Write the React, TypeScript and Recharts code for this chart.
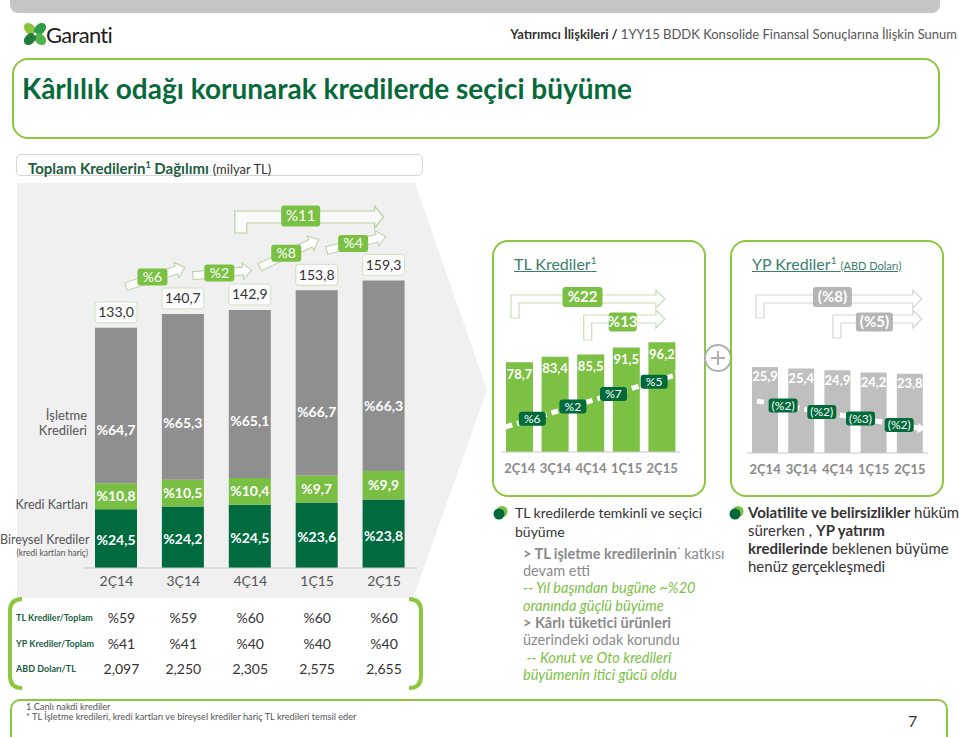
import React from "react";
import { BarChart, Bar, XAxis, YAxis, LabelList } from "recharts";

// quarters and total loan breakdown (milyar TL)
const quarters = ["2Ç14", "3Ç14", "4Ç14", "1Ç15", "2Ç15"];
const totalLoans = [133.0, 140.7, 142.9, 153.8, 159.3];
const businessShare = [64.7, 65.3, 65.1, 66.7, 66.3];
const cardShare = [10.8, 10.5, 10.4, 9.7, 9.9];
const consumerShare = [24.5, 24.2, 24.5, 23.6, 23.8];
const totalQoq = ["%6", "%2", "%8", "%4"];
const totalYoy = "%11";

// table under the main chart
const tlOfTotal = ["%59", "%59", "%60", "%60", "%60"];
const fcOfTotal = ["%41", "%41", "%40", "%40", "%40"];
const usdTry = ["2,097", "2,250", "2,305", "2,575", "2,655"];

// TL loans (milyar TL)
const tlLoans = [78.7, 83.4, 85.5, 91.5, 96.2];
const tlQoq = ["%6", "%2", "%7", "%5"];
const tlYoy = "%22";
const tlYtd = "%13";

// FC loans (milyar ABD Doları)
const fcLoans = [25.9, 25.4, 24.9, 24.2, 23.8];
const fcQoq = ["(%2)", "(%2)", "(%3)", "(%2)"];
const fcYoy = "(%8)";
const fcYtd = "(%5)";

const GREEN = "#7ac143";
const DARK = "#006a3b";
const BORDER = "#8dc63f";
const FONT = "Lato, 'Open Sans', sans-serif";

const fmt = (n: number) => n.toFixed(1).replace(".", ",");

const mainData = quarters.map((q, i) => ({
  q,
  consumer: (totalLoans[i] * consumerShare[i]) / 100,
  card: (totalLoans[i] * cardShare[i]) / 100,
  business: (totalLoans[i] * businessShare[i]) / 100,
}));
const tlData = quarters.map((q, i) => ({ q, v: tlLoans[i] }));
const fcData = quarters.map((q, i) => ({ q, v: fcLoans[i] }));

const MAIN = { x: 0, y: 180, w: 440, h: 420 };
const MAIN_M = { top: 63, right: 22.5, bottom: 2, left: 83 };
const MAIN_BAND = (MAIN.w - MAIN_M.left - MAIN_M.right) / 5;

const TL = { x: 492, y: 240, w: 214, h: 257 };
const TL_M = { top: 75, right: 26, bottom: 15, left: 10 };
const TL_BAND = (TL.w - TL_M.left - TL_M.right) / 5;

const FC = { x: 730, y: 240, w: 214, h: 257 };
const FC_M = { top: 80, right: 16, bottom: 14, left: 17 };
const FC_BAND = (FC.w - FC_M.left - FC_M.right) / 5;

const vbOf = (p: any) => {
  const v = p.viewBox || {};
  return {
    x: v.x ?? p.x,
    y: v.y ?? p.y,
    width: v.width ?? p.width,
    height: v.height ?? p.height,
  };
};

function blockArrow(key: string, x1: number, y1: number, x2: number, y2: number, stroke: string, fill: string) {
  const L = Math.hypot(x2 - x1, y2 - y1);
  const a = (Math.atan2(y2 - y1, x2 - x1) * 180) / Math.PI;
  const pts = [[0, -4], [L - 9, -4], [L - 9, -8], [L, 0], [L - 9, 8], [L - 9, 4], [0, 4]]
    .map((p) => p.join(","))
    .join(" ");
  return (
    <polygon key={key} points={pts} transform={`translate(${x1},${y1}) rotate(${a})`}
      fill={fill} stroke={stroke} strokeWidth={1} />
  );
}

function bentArrow(key: string, xl: number, yTop: number, yBottom: number, xTip: number, th: number, stroke: string, fill: string) {
  const h = 9, w = 5;
  const d = `M${xl},${yBottom} L${xl},${yTop} L${xTip - h},${yTop} L${xTip - h},${yTop - w} L${xTip},${yTop + th / 2} L${xTip - h},${yTop + th + w} L${xTip - h},${yTop + th} L${xl + th},${yTop + th} L${xl + th},${yBottom} Z`;
  return <path key={key} d={d} fill={fill} stroke={stroke} strokeWidth={1.2} />;
}

function tag(key: string, cx: number, cy: number, w: number, h: number, text: string, fill: string,
  color: string, fs: number, weight = 700, stroke = "none") {
  return (
    <g key={key}>
      <rect x={cx - w / 2} y={cy - h / 2} width={w} height={h} rx={3} fill={fill} stroke={stroke} />
      <text x={cx} y={cy} dy="0.35em" textAnchor="middle" fill={color} fontSize={fs} fontWeight={weight}
        fontFamily={FONT}>{text}</text>
    </g>
  );
}

function dashedArrow(key: string, xs: number, ys: number, xe: number, ye: number) {
  const a = (Math.atan2(ye - ys, xe - xs) * 180) / Math.PI;
  return (
    <g key={key}>
      <line x1={xs} y1={ys} x2={xe} y2={ye} stroke="#fff" strokeWidth={5} strokeDasharray="7 5" />
      <polygon points="0,-5 8,0 0,5" fill="#fff" transform={`translate(${xe},${ye}) rotate(${a})`} />
    </g>
  );
}

const consumerLabel = (p: any) => {
  const { x, y, width, height } = vbOf(p);
  return (
    <text x={x + width / 2} y={y + height / 2 + 2} dy="0.35em" textAnchor="middle" fill="#fff"
      fontSize={14} fontWeight={700} fontFamily={FONT}>%{fmt(consumerShare[p.index])}</text>
  );
};

const cardLabel = (p: any) => {
  const { x, y, width, height } = vbOf(p);
  return (
    <text x={x + width / 2} y={y + height / 2} dy="0.35em" textAnchor="middle" fill="#fff"
      fontSize={14} fontWeight={700} fontFamily={FONT}>%{fmt(cardShare[p.index])}</text>
  );
};

const businessLabel = (p: any) => {
  const { x, y, width, height } = vbOf(p);
  const i = p.index;
  const cx = x + width / 2;
  const ppu = height / mainData[i].business;
  const out: any[] = [];
  out.push(
    <text key="pct" x={cx} y={y + height * 0.66} dy="0.35em" textAnchor="middle" fill="#fff"
      fontSize={14} fontWeight={700} fontFamily={FONT}>%{fmt(businessShare[i])}</text>
  );
  out.push(tag("tot", cx, y - 15.5, width, 21, fmt(totalLoans[i]), "#fbfbfb", "#333", 14, 400, "#cfe0bf"));
  if (i > 0) {
    const prevTop = y + (totalLoans[i] - totalLoans[i - 1]) * ppu;
    const curTag = y - 26;
    const prevTag = prevTop - 26;
    const by = curTag - 11;
    const bx = cx - MAIN_BAND / 2 + 3;
    const d = Math.max(2, (prevTag - curTag) * 0.7);
    out.push(blockArrow("ar", cx - MAIN_BAND + 10, by + d, cx + 2, by - d, "#b7cfa3", "#fdfdfd"));
    out.push(tag("g", bx, by, 30, 17, totalQoq[i - 1], GREEN, "#fff", 14, 400));
  }
  if (i === 4) {
    const c3 = cx - 2 * MAIN_BAND;
    out.push(bentArrow("yoy", c3 - 15, 31, 53, cx, 12, "#b7cfa3", "#fafafa"));
    out.push(tag("yoyt", cx - MAIN_BAND - 16, 36, 39, 21, totalYoy, GREEN, "#fff", 15, 400));
  }
  return <g>{out}</g>;
};

const tlLabel = (p: any) => {
  const { x, y, width, height } = vbOf(p);
  const i = p.index;
  const cx = x + width / 2;
  const base = y + height;
  const c1 = cx - i * TL_BAND;
  const c3 = cx + (2 - i) * TL_BAND;
  const c5 = cx + (4 - i) * TL_BAND;
  const xs = c1 - 14, ys = base - 25, xe = c5 + 14, ye = base - 77;
  const lineY = (xx: number) => ys + ((xx - xs) * (ye - ys)) / (xe - xs);
  const out: any[] = [];
  if (i === 0) {
    out.push(dashedArrow("dash", xs, ys, xe, ye));
    out.push(bentArrow("b1", c1 - 8.5, 55, 78, c5 + 3, 8, "#c9ddb5", "#fff"));
    out.push(tag("t1", c1 + 63, 57, 40, 20, tlYoy, GREEN, "#fff", 15));
    out.push(bentArrow("b2", c3 - 7, 75, 100, c5 + 3, 8, "#c9ddb5", "#fff"));
    out.push(tag("t2", c3 + 32, 82, 28, 19, tlYtd, GREEN, "#fff", 15));
  }
  out.push(
    <text key="v" x={cx} y={y + 12} dy="0.35em" textAnchor="middle" fill="#fff" fontSize={13}
      fontWeight={700} fontFamily={FONT}>{fmt(tlLoans[i])}</text>
  );
  if (i > 0) {
    const bx = cx - TL_BAND / 2 + (i - 2) * 5;
    out.push(tag("g", bx, lineY(bx), 27, 14, tlQoq[i - 1], DARK, "#fff", 12, 400));
  }
  return <g>{out}</g>;
};

const fcLabel = (p: any) => {
  const { x, y, width, height } = vbOf(p);
  const i = p.index;
  const cx = x + width / 2;
  const base = y + height;
  const c1 = cx - i * FC_BAND;
  const c3 = cx + (2 - i) * FC_BAND;
  const c5 = cx + (4 - i) * FC_BAND;
  const xs = c1 - 8, ys = base - 52, xe = c5 + 8, ye = base - 25;
  const lineY = (xx: number) => ys + ((xx - xs) * (ye - ys)) / (xe - xs);
  const out: any[] = [];
  if (i === 0) {
    out.push(dashedArrow("dash", xs, ys, xe, ye));
    out.push(bentArrow("b1", c1 - 9, 55, 78, c5 + 12, 8, "#d6d6d6", "#fff"));
    out.push(tag("t1", c3 - 5, 57, 39, 20, fcYoy, "#b5b5b5", "#fff", 15));
    out.push(bentArrow("b2", c3 - 4.5, 75, 98, c5 + 12, 8, "#d6d6d6", "#fff"));
    out.push(tag("t2", c3 + 37, 82, 37, 19, fcYtd, "#b5b5b5", "#fff", 15));
  }
  out.push(
    <text key="v" x={cx} y={y + 10} dy="0.35em" textAnchor="middle" fill="#fff" fontSize={13}
      fontWeight={700} fontFamily={FONT}>{fmt(fcLoans[i])}</text>
  );
  if (i > 0) {
    const bx = cx - FC_BAND / 2 + (i - 1) * 2.5;
    out.push(tag("g", bx, lineY(bx), 29, 14, fcQoq[i - 1], DARK, "#fff", 12, 400));
  }
  return <g>{out}</g>;
};

const abs = (x: number, y: number, extra: any = {}) => ({ position: "absolute" as const, left: x, top: y, ...extra });

function Bullet({ x, y }: { x: number; y: number }) {
  return (
    <svg style={abs(x, y)} width={16} height={16}>
      <circle cx={9} cy={6.5} r={5.5} fill={GREEN} />
      <circle cx={6} cy={9} r={5.5} fill={DARK} />
    </svg>
  );
}

export default function App() {
  const mainCenters = quarters.map((_, i) => MAIN.x + MAIN_M.left + MAIN_BAND * (i + 0.5));
  const tableRows = [
    { label: "TL Krediler/Toplam", values: tlOfTotal, y: 609 },
    { label: "YP Krediler/Toplam", values: fcOfTotal, y: 635 },
    { label: "ABD Doları/TL", values: usdTry, y: 660 },
  ];
  const sub = { color: "#8a8a8a", fontSize: 14.5 };
  const ital = { color: GREEN, fontStyle: "italic" as const, fontSize: 14.5 };
  return (
    <div style={{ position: "absolute", left: 0, top: 0, width: 959, height: 737, background: "#fff",
      overflow: "hidden", fontFamily: FONT }}>
      {/* header */}
      <div style={abs(10, -10, { width: 930, height: 23, background: "#c6c6c6", borderRadius: 8 })} />
      <svg style={abs(22, 19)} width={28} height={30}>
        <g transform="translate(13,15)">
          <ellipse cx={-5} cy={-5} rx={5} ry={7} transform="rotate(-45 -5 -5)" fill="#8cc63f" />
          <ellipse cx={5} cy={-5} rx={5} ry={7} transform="rotate(45 5 -5)" fill="#2e9d48" />
          <ellipse cx={5} cy={5} rx={5} ry={7} transform="rotate(-45 5 5)" fill="#4db34a" />
          <ellipse cx={-5} cy={5} rx={5} ry={7} transform="rotate(45 -5 5)" fill="#1f7c3c" />
          <circle cx={0} cy={0} r={1.5} fill="#fff" />
        </g>
      </svg>
      <div style={abs(46, 20, { fontSize: 22, color: "#1d1d1b", letterSpacing: -0.7, lineHeight: "30px",
        whiteSpace: "nowrap" })}>Garanti</div>
      <div style={abs(0, 25, { width: 957, textAlign: "right", fontSize: 13, color: "#555", lineHeight: "18px" })}>
        <b style={{ color: "#333" }}>Yatırımcı İlişkileri / </b>1YY15 BDDK Konsolide Finansal Sonuçlarına İlişkin Sunum
      </div>
      <div style={abs(12, 58, { width: 928, height: 81, boxSizing: "border-box", border: `2px solid ${BORDER}`,
        borderRadius: 16 })} />
      <div style={abs(22, 70, { fontSize: 28, fontWeight: 700, color: "#076a3b",
        lineHeight: "36px", whiteSpace: "nowrap" })}>
        Kârlılık odağı korunarak kredilerde seçici büyüme
      </div>
      <div style={abs(16, 154, { width: 407, height: 22, boxSizing: "border-box", border: "1px solid #d4d4d4",
        borderRadius: 5 })} />
      <div style={abs(28, 155, { fontSize: 15, lineHeight: "20px", whiteSpace: "nowrap", color: "#1e5c3f" })}>
        <b>Toplam Kredilerin<sup style={{ fontSize: 9 }}>1</sup> Dağılımı</b>{" "}
        <span style={{ fontSize: 13, color: "#333" }}>(milyar TL)</span>
      </div>

      {/* gray chevron panel */}
      <svg style={abs(0, 0)} width={959} height={737}>
        <polygon points="17,183 415,183 487,390 413,598 17,598" fill="#f0f0f0" />
      </svg>

      {/* left labels */}
      <div style={abs(0, 408, { width: 87, textAlign: "right", fontSize: 13, color: "#555", lineHeight: "15px" })}>
        İşletme<br />Kredileri
      </div>
      <div style={abs(0, 497, { width: 88, textAlign: "right", fontSize: 12.5, color: "#555", whiteSpace: "nowrap" })}>
        Kredi Kartları
      </div>
      <div style={abs(0, 532, { width: 88, textAlign: "right", fontSize: 12.5, color: "#555", lineHeight: "16px",
        whiteSpace: "nowrap" })}>
        Bireysel Krediler
        <div style={{ fontSize: 8.5, lineHeight: "10px" }}>(kredi kartları hariç)</div>
      </div>

      <BarChart style={abs(MAIN.x, MAIN.y)} width={MAIN.w} height={MAIN.h} data={mainData} margin={MAIN_M}>
        <XAxis dataKey="q" height={30} interval={0} tickLine={false} axisLine={{ stroke: "#c8c8c8" }}
          tick={{ fill: "#555", fontSize: 14, fontFamily: FONT }} />
        <YAxis hide domain={[0, 180]} />
        <Bar dataKey="consumer" stackId="a" fill="#006b3f" barSize={42} isAnimationActive={false}>
          <LabelList dataKey="consumer" content={consumerLabel} />
        </Bar>
        <Bar dataKey="card" stackId="a" fill="#79bf43" barSize={42} isAnimationActive={false}>
          <LabelList dataKey="card" content={cardLabel} />
        </Bar>
        <Bar dataKey="business" stackId="a" fill="#8f8f8f" barSize={42} isAnimationActive={false}>
          <LabelList dataKey="business" content={businessLabel} />
        </Bar>
      </BarChart>

      {/* table */}
      <svg style={abs(0, 595)} width={440} height={96}>
        <rect x={10} y={4} width={411} height={89} fill="#fff" />
        <path d="M22,4 Q10,4 10,16 L10,81 Q10,93 22,93" fill="none" stroke={BORDER} strokeWidth={4} />
        <path d="M409,4 Q421,4 421,16 L421,81 Q421,93 409,93" fill="none" stroke={BORDER} strokeWidth={4} />
      </svg>
      {tableRows.map((r) => (
        <React.Fragment key={r.label}>
          <div style={abs(16, r.y, { fontSize: 9, fontWeight: 700, color: "#1b5e45", lineHeight: "18px",
            whiteSpace: "nowrap" })}>{r.label}</div>
          {r.values.map((v, i) => (
            <div key={i} style={abs(mainCenters[i] - 30 + (i === 0 ? 5 : 0), r.y, { width: 60, textAlign: "center",
              fontSize: 14, color: "#333", lineHeight: "18px" })}>{v}</div>
          ))}
        </React.Fragment>
      ))}

      {/* TL box */}
      <div style={abs(TL.x, TL.y, { width: TL.w, height: TL.h, boxSizing: "border-box", border: `2px solid ${BORDER}`,
        borderRadius: 16, background: "#fff" })} />
      <div style={abs(514, 250, { fontSize: 16, color: "#3a7f6c", textDecoration: "underline", lineHeight: "20px" })}>
        TL Krediler<sup style={{ fontSize: 10 }}>1</sup>
      </div>
      <BarChart style={abs(TL.x, TL.y)} width={TL.w} height={TL.h} data={tlData} margin={TL_M}>
        <XAxis dataKey="q" height={30} interval={0} tickLine={false} tickMargin={6} axisLine={{ stroke: "#c8c8c8" }}
          tick={{ fill: "#8a8a8a", fontSize: 13, fontWeight: 700, fontFamily: FONT }} />
        <YAxis hide domain={[0, 120]} />
        <Bar dataKey="v" fill="#7cc143" barSize={27} isAnimationActive={false}>
          <LabelList dataKey="v" content={tlLabel} />
        </Bar>
      </BarChart>

      {/* plus */}
      <svg style={abs(703, 343)} width={30} height={30}>
        <circle cx={15} cy={15} r={13} fill="#fff" stroke="#b0b0b0" strokeWidth={2} />
        <line x1={8} y1={15} x2={22} y2={15} stroke="#b0b0b0" strokeWidth={2} />
        <line x1={15} y1={8} x2={15} y2={22} stroke="#b0b0b0" strokeWidth={2} />
      </svg>

      {/* FC box */}
      <div style={abs(FC.x, FC.y, { width: FC.w, height: FC.h, boxSizing: "border-box", border: `2px solid ${BORDER}`,
        borderRadius: 16, background: "#fff" })} />
      <div style={abs(752, 250, { fontSize: 16, color: "#3a7f6c", textDecoration: "underline", lineHeight: "20px",
        whiteSpace: "nowrap" })}>
        YP Krediler<sup style={{ fontSize: 10 }}>1</sup> <span style={{ fontSize: 11 }}>(ABD Doları)</span>
      </div>
      <BarChart style={abs(FC.x, FC.y)} width={FC.w} height={FC.h} data={fcData} margin={FC_M}>
        <XAxis dataKey="q" height={30} interval={0} tickLine={false} tickMargin={6} axisLine={{ stroke: "#c8c8c8" }}
          tick={{ fill: "#8a8a8a", fontSize: 13, fontWeight: 700, fontFamily: FONT }} />
        <YAxis hide domain={[0, 40]} />
        <Bar dataKey="v" fill="#bfbfbf" barSize={26} isAnimationActive={false}>
          <LabelList dataKey="v" content={fcLabel} />
        </Bar>
      </BarChart>

      {/* bullets */}
      <Bullet x={493} y={505} />
      <div style={abs(515, 503, { fontSize: 14, color: "#333", lineHeight: "19px", whiteSpace: "nowrap" })}>
        <div>TL kredilerde temkinli ve seçici</div>
        <div>büyüme</div>
      </div>
      <div style={abs(523, 542, { lineHeight: "17.3px", whiteSpace: "nowrap" })}>
        <div style={sub}><b>&gt; TL işletme kredilerinin</b><sup style={{ fontSize: 8 }}>*</sup> katkısı</div>
        <div style={sub}>devam etti</div>
        <div style={ital}>-- Yıl başından bugüne ~%20</div>
        <div style={ital}>oranında güçlü büyüme</div>
        <div style={sub}><b>&gt; Kârlı tüketici ürünleri</b></div>
        <div style={sub}>üzerindeki odak korundu</div>
        <div style={ital}>&nbsp;-- Konut ve Oto kredileri</div>
        <div style={ital}>büyümenin itici gücü oldu</div>
      </div>
      <Bullet x={729} y={505} />
      <div style={abs(748, 503, { fontSize: 15, color: "#333", lineHeight: "18px", whiteSpace: "nowrap" })}>
        <div><b>Volatilite ve belirsizlikler</b> hüküm</div>
        <div>sürerken , <b>YP yatırım</b></div>
        <div><b>kredilerinde</b> beklenen büyüme</div>
        <div>henüz gerçekleşmedi</div>
      </div>

      {/* footer */}
      <div style={abs(10, 699, { width: 938, height: 60, boxSizing: "border-box", border: `2px solid ${BORDER}`,
        borderRadius: 10 })} />
      <div style={abs(26, 702, { fontSize: 9.2, color: "#555", lineHeight: "9.5px", whiteSpace: "nowrap" })}>
        1 Canlı nakdi krediler<br />* TL İşletme kredileri, kredi kartları  ve bireysel krediler hariç TL kredileri temsil eder
      </div>
      <div style={abs(908, 711, { fontSize: 16, color: "#333", lineHeight: "20px" })}>7</div>
    </div>
  );
}
